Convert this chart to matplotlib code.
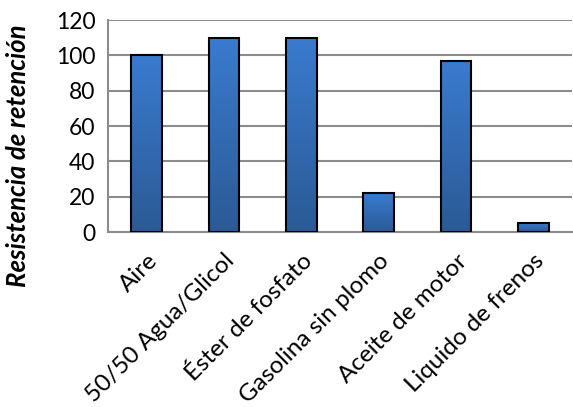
import numpy as np
import matplotlib.pyplot as plt
from matplotlib.colors import LinearSegmentedColormap

categorias = ['Aire', '50/50 Agua/Glicol', 'Éster de fosfato', 'Gasolina sin plomo',
              'Aceite de motor', 'Liquido de frenos']
resistencia = [100, 110, 110, 22, 97, 5]

plt.rcParams['font.family'] = ['Lato', 'DejaVu Sans']

fig = plt.figure(figsize=(5.73, 4.07), dpi=100)
ax = fig.add_axes([108 / 573, 1 - 232 / 407, 464 / 573, 212 / 407])

x = np.arange(len(categorias))
bars = ax.bar(x, resistencia, width=0.4, color='none', edgecolor='black', linewidth=1.5, zorder=3)

# degradado vertical en cada barra
cmap = LinearSegmentedColormap.from_list('azul', ['#2B5A95', '#3A7BCF'])
grad = np.linspace(0, 1, 256).reshape(-1, 1)
for b in bars:
    x0, w, h = b.get_x(), b.get_width(), b.get_height()
    im = ax.imshow(grad, cmap=cmap, aspect='auto', origin='lower',
                   extent=[x0, x0 + w, 0, h], zorder=2)
    im.set_clip_path(b)

ax.set_xlim(-0.5, len(categorias) - 0.5)
ax.set_ylim(0, 120)
ax.set_yticks(range(0, 121, 20))
ax.yaxis.grid(True, color='#8c8c8c', linewidth=1.5, zorder=1)
ax.set_axisbelow(True)
ax.tick_params(axis='y', length=0, labelsize=16.5, pad=9)
ax.tick_params(axis='x', length=0, labelsize=17.5, pad=13)
ax.set_xticks(x)
ax.set_xticklabels(categorias, rotation=45, ha='right', rotation_mode='anchor')
for s in ['top', 'right']:
    ax.spines[s].set_visible(False)
for s in ['left', 'bottom']:
    ax.spines[s].set_color('#8c8c8c')
    ax.spines[s].set_linewidth(1.5)

ax.set_ylabel('Resistencia de retención', fontsize=18.5, fontweight='bold', style='italic')
ax.yaxis.set_label_coords(-78 / 464, 0.5 - 30 / 212)

fig.savefig('out.png', dpi=100)
